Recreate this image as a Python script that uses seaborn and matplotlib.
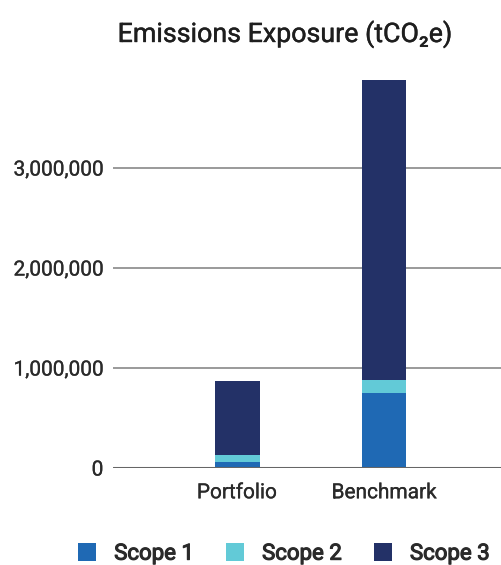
import matplotlib
matplotlib.use("Agg")
import matplotlib.pyplot as plt
import matplotlib.patheffects as pe
import seaborn as sns
import pandas as pd
from matplotlib.patches import Patch
from matplotlib.ticker import FuncFormatter

categories = ["Portfolio", "Benchmark"]
scope1 = [65000, 750000]
scope2 = [65000, 133000]
scope3 = [736000, 2997000]
series_names = ["Scope 1", "Scope 2", "Scope 3"]
colors = ["#1F69B4", "#62CAD7", "#233167"]
yticks = [0, 1000000, 2000000, 3000000]

sns.set_theme(style="white")
plt.rcParams["font.family"] = ["Roboto", "DejaVu Sans"]

df = pd.DataFrame({
    "category": categories,
    "s1": scope1,
    "s12": [a + b for a, b in zip(scope1, scope2)],
    "s123": [a + b + c for a, b, c in zip(scope1, scope2, scope3)],
})

fig = plt.figure(figsize=(5.01, 5.65), dpi=100)
W, H = 501, 565
ax = fig.add_axes([113 / W, (H - 468) / H, (501 - 113) / W, (468 - 72) / H])

for col, c in zip(["s123", "s12", "s1"], colors[::-1]):
    sns.barplot(data=df, x="category", y=col, color=c, width=0.306,
                saturation=1, ax=ax, zorder=3, linewidth=0, edgecolor="none")

ax.set_xlim(-0.844, 1.796)
ax.set_ylim(0, 3960000)
ax.set_yticks(yticks)
ax.yaxis.set_major_formatter(FuncFormatter(lambda v, p: f"{int(v):,}"))
ax.set_xlabel("")
ax.set_ylabel("")
for s in ax.spines.values():
    s.set_visible(False)
for t in yticks[1:]:
    ax.axhline(t, color="#9a9a9a", lw=1.4, zorder=1)
ax.axhline(0, color="#666666", lw=2.2, zorder=4)
ax.tick_params(axis="y", length=0, pad=7, labelsize=15, labelcolor="#2a2a2a")
ax.tick_params(axis="x", length=0, pad=11, labelsize=15, labelcolor="#2a2a2a")

thin = [pe.withStroke(linewidth=0.2, foreground="#2a2a2a")]
for lab in ax.get_xticklabels() + ax.get_yticklabels():
    lab.set_path_effects(thin)

fig.text(285 / W, 1 - 34 / H, "Emissions Exposure (tCO₂e)", ha="center",
         va="center", fontsize=19.3, color="#1e1e1e",
         path_effects=[pe.withStroke(linewidth=0.3, foreground="#1e1e1e")])

handles = [Patch(facecolor=c, edgecolor="none") for c in colors]
leg = fig.legend(handles, series_names, loc="center", bbox_to_anchor=(284 / W, 1 - 554 / H),
                 ncol=3, frameon=False, handlelength=0.81, handleheight=0.81,
                 handletextpad=0.81, columnspacing=1.44,
                 prop={"size": 16, "family": ["Roboto", "DejaVu Sans"]})
for t in leg.get_texts():
    t.set_color("#2a2a2a")
    t.set_path_effects([pe.withStroke(linewidth=0.8, foreground="#2a2a2a")])

fig.savefig("out.png", dpi=100)
